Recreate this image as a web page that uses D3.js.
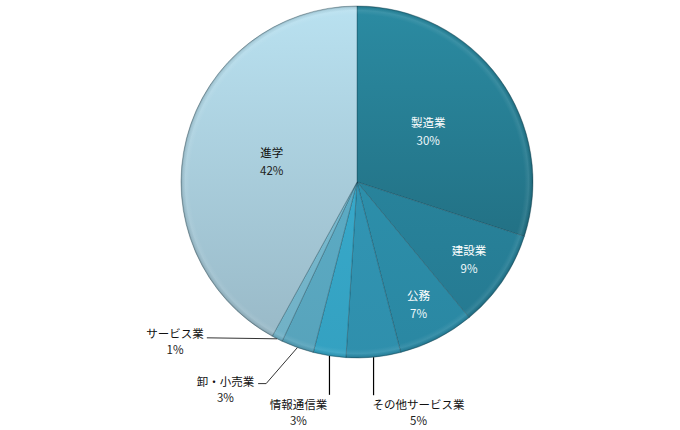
<!DOCTYPE html>
<html>
<head>
<meta charset="utf-8">
<script src="https://cdn.jsdelivr.net/npm/d3@7"></script>
<style>
  body { margin: 0; background: #fff; }
  text { font-family: "Noto Sans CJK JP", "Noto Sans", sans-serif; font-size: 11.5px; }
</style>
</head>
<body>
<div id="chart"></div>
<script>
// data
var categories = ["製造業", "建設業", "公務", "その他サービス業", "情報通信業", "卸・小売業", "サービス業", "進学"];
var shares = [30, 9, 7, 5, 3, 3, 1, 42];
var shareLabels = ["30%", "9%", "7%", "5%", "3%", "3%", "1%", "42%"];

// styles (top / bottom of the gradient)
var topColors = ["#2b8ba2", "#2b8ea8", "#2f97b3", "#349bbb", "#3bb0d2", "#62b4ce", "#80c3d8", "#b9e1f0"];
var bottomColors = ["#1e6476", "#25788f", "#2a87a2", "#2f8fac", "#34a1c1", "#57a3bb", "#70b0c5", "#97b7c5"];

var svgWidth = 680;
var svgHeight = 430;
var cx = 357, cy = 182, radius = 176;

// callout layout for small slices: label centre offset from the rim point, leader shape
var callouts = {
    "サービス業": { dx: -102, dy: -6, leader: "h" },
    "卸・小売業": { dx: -72, dy: 33, leader: "elbow" },
    "情報通信業": { dx: -31, dy: 48, leader: "v" },
    "その他サービス業": { dx: 45, dy: 47, leader: "v" }
};

var svg = d3.select("#chart")
    .append("svg")
    .attr("width", svgWidth)
    .attr("height", svgHeight);

var defs = svg.append("defs");

categories.forEach(function(c, i) {
    var g = defs.append("linearGradient")
        .attr("id", "grad" + i)
        .attr("gradientUnits", "userSpaceOnUse")
        .attr("x1", 0).attr("y1", -radius)
        .attr("x2", 0).attr("y2", radius);
    g.append("stop").attr("offset", "0%").attr("stop-color", topColors[i]);
    g.append("stop").attr("offset", "100%").attr("stop-color", bottomColors[i]);
});

var rim = defs.append("radialGradient")
    .attr("id", "rim")
    .attr("gradientUnits", "userSpaceOnUse")
    .attr("cx", 0).attr("cy", 0).attr("r", radius);
rim.append("stop").attr("offset", "0.95").attr("stop-color", "#fff").attr("stop-opacity", 0);
rim.append("stop").attr("offset", "0.975").attr("stop-color", "#fff").attr("stop-opacity", 0.08);
rim.append("stop").attr("offset", "0.99").attr("stop-color", "#000").attr("stop-opacity", 0.06);
rim.append("stop").attr("offset", "1").attr("stop-color", "#000").attr("stop-opacity", 0.25);

var pieData = d3.pie().sort(null).value(function(d) { return d; })(shares);

var arc = d3.arc().innerRadius(0).outerRadius(radius);

var chartGroup = svg.append("g")
    .attr("transform", `translate(${cx},${cy})`);

chartGroup.selectAll("path.slice")
    .data(pieData)
    .enter()
    .append("path")
    .attr("class", "slice")
    .attr("d", arc)
    .attr("fill", function(d, i) { return "url(#grad" + i + ")"; })
    .attr("stroke", "rgba(20,60,75,0.5)")
    .attr("stroke-width", 0.7);

// bevel rim
chartGroup.append("circle")
    .attr("r", radius)
    .attr("fill", "url(#rim)")
    .attr("pointer-events", "none");

// inside labels
pieData.forEach(function(d) {
    var i = d.index;
    if (callouts[categories[i]]) return;
    var r = d.value >= 20 ? radius * 0.5 : radius * 0.77;
    var pos = d3.arc().innerRadius(r).outerRadius(r).centroid(d);
    var dark = d.value >= 40;
    chartGroup.append("text")
        .attr("x", pos[0]).attr("y", pos[1] - 8)
        .attr("text-anchor", "middle")
        .attr("dominant-baseline", "central")
        .attr("fill", dark ? "#111" : "#fff")
        .text(categories[i]);
    chartGroup.append("text")
        .attr("x", pos[0]).attr("y", pos[1] + 10)
        .attr("text-anchor", "middle")
        .attr("dominant-baseline", "central")
        .attr("fill", dark ? "#222" : "#eef8fb")
        .text(shareLabels[i]);
});

// callouts
pieData.forEach(function(d) {
    var i = d.index;
    var c = callouts[categories[i]];
    if (!c) return;
    var mid = (d.startAngle + d.endAngle) / 2;
    var ex = radius * Math.sin(mid), ey = -radius * Math.cos(mid);
    var lx = ex + c.dx, ly = ey + c.dy;

    var nameText = chartGroup.append("text")
        .attr("x", lx).attr("y", ly)
        .attr("text-anchor", "middle")
        .attr("dominant-baseline", "central")
        .attr("fill", "#111")
        .text(categories[i]);
    chartGroup.append("text")
        .attr("x", lx).attr("y", ly + 16)
        .attr("text-anchor", "middle")
        .attr("dominant-baseline", "central")
        .attr("fill", "#222")
        .text(shareLabels[i]);

    var w = nameText.node().getComputedTextLength();
    var pts;
    if (c.leader === "h") {
        pts = [[ex, ey], [lx + w / 2 + 3, ly + 5]];
    } else if (c.leader === "elbow") {
        pts = [[ex, ey], [lx + w / 2 + 12, ly + 3], [lx + w / 2 + 4, ly + 3]];
    } else {
        pts = [[ex, ey], [ex, ly - 9]];
    }
    chartGroup.append("path")
        .attr("d", d3.line()(pts))
        .attr("fill", "none")
        .attr("stroke", c.leader === "v" ? "#000" : "#333")
        .attr("stroke-width", c.leader === "v" ? 1.2 : 1);
});
</script>
</body>
</html>
